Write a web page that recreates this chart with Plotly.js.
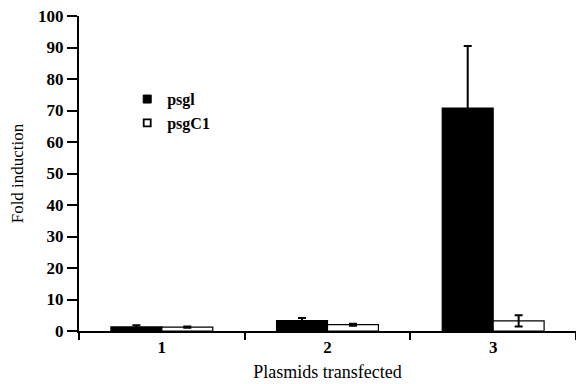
<!DOCTYPE html>
<html><head><meta charset="utf-8">
<script src="https://cdn.plot.ly/plotly-3.0.1.min.js"></script>
<style>html,body{margin:0;padding:0;background:#fff}#chart{width:576px;height:384px}</style>
</head><body><div id="chart"></div>
<script>
const categories = ['1', '2', '3'];
const psglValues = [1.3, 3.3, 70.8];
const psglErrors = [0.5, 0.8, 19.7];
const psgC1Values = [1.2, 2.0, 3.2];
const psgC1Errors = [0.2, 0.3, 1.8];
const yTicks = [0, 10, 20, 30, 40, 50, 60, 70, 80, 90, 100];
const seriesNames = ['psgl', 'psgC1'];

const fam = 'Liberation Serif, Times New Roman, serif';
const traces = [
  {type: 'bar', name: seriesNames[0], x: categories, y: psglValues, showlegend: false,
   marker: {color: '#000', line: {color: '#000', width: 1.2}},
   error_y: {type: 'data', array: psglErrors, visible: true, color: '#000', thickness: 2, width: 4}},
  {type: 'bar', name: seriesNames[1], x: categories, y: psgC1Values, showlegend: false,
   marker: {color: '#fff', line: {color: '#000', width: 1.2}},
   error_y: {type: 'data', array: psgC1Errors, visible: true, color: '#000', thickness: 2, width: 4}},
  {type: 'scatter', mode: 'markers', name: seriesNames[0], x: [null], y: [null],
   marker: {symbol: 'square', size: 8, color: '#000', line: {color: '#000', width: 1}}},
  {type: 'scatter', mode: 'markers', name: seriesNames[1], x: [null], y: [null],
   marker: {symbol: 'square', size: 7, color: '#fff', line: {color: '#000', width: 1.8}}}
];
const layout = {
  width: 576, height: 384,
  margin: {l: 79, r: 0, t: 16, b: 53},
  paper_bgcolor: '#fff', plot_bgcolor: '#fff',
  barmode: 'group', bargap: 0.385, bargroupgap: 0,
  font: {family: fam, color: '#000'},
  showlegend: true,
  legend: {x: 0.097, y: 0.79, xanchor: 'left', yanchor: 'top', bgcolor: 'rgba(0,0,0,0)',
           font: {family: fam, size: 16, color: '#000', weight: 'bold'},
           itemwidth: 30, tracegroupgap: 0},
  xaxis: {type: 'category', range: [-0.5, 2.5], tickson: 'boundaries',
          ticks: 'outside', ticklen: 7, tickwidth: 2, tickcolor: '#000',
          showline: true, linecolor: '#000', linewidth: 2, showgrid: false, zeroline: false,
          tickfont: {family: fam, size: 17, color: '#000', weight: 'bold'},
          title: {text: 'Plasmids transfected', font: {family: fam, size: 18, color: '#000'}, standoff: 9}},
  yaxis: {range: [0, 100], tickvals: yTicks, ticks: 'outside', ticklen: 10, tickwidth: 2, tickcolor: '#000',
          showline: true, linecolor: '#000', linewidth: 2, showgrid: false, zeroline: false,
          tickfont: {family: fam, size: 17, color: '#000', weight: 'bold'},
          title: {text: 'Fold induction', font: {family: fam, size: 17, color: '#000'}, standoff: 10}}
};
Plotly.newPlot('chart', traces, layout, {displayModeBar: false, staticPlot: true});
</script></body></html>
